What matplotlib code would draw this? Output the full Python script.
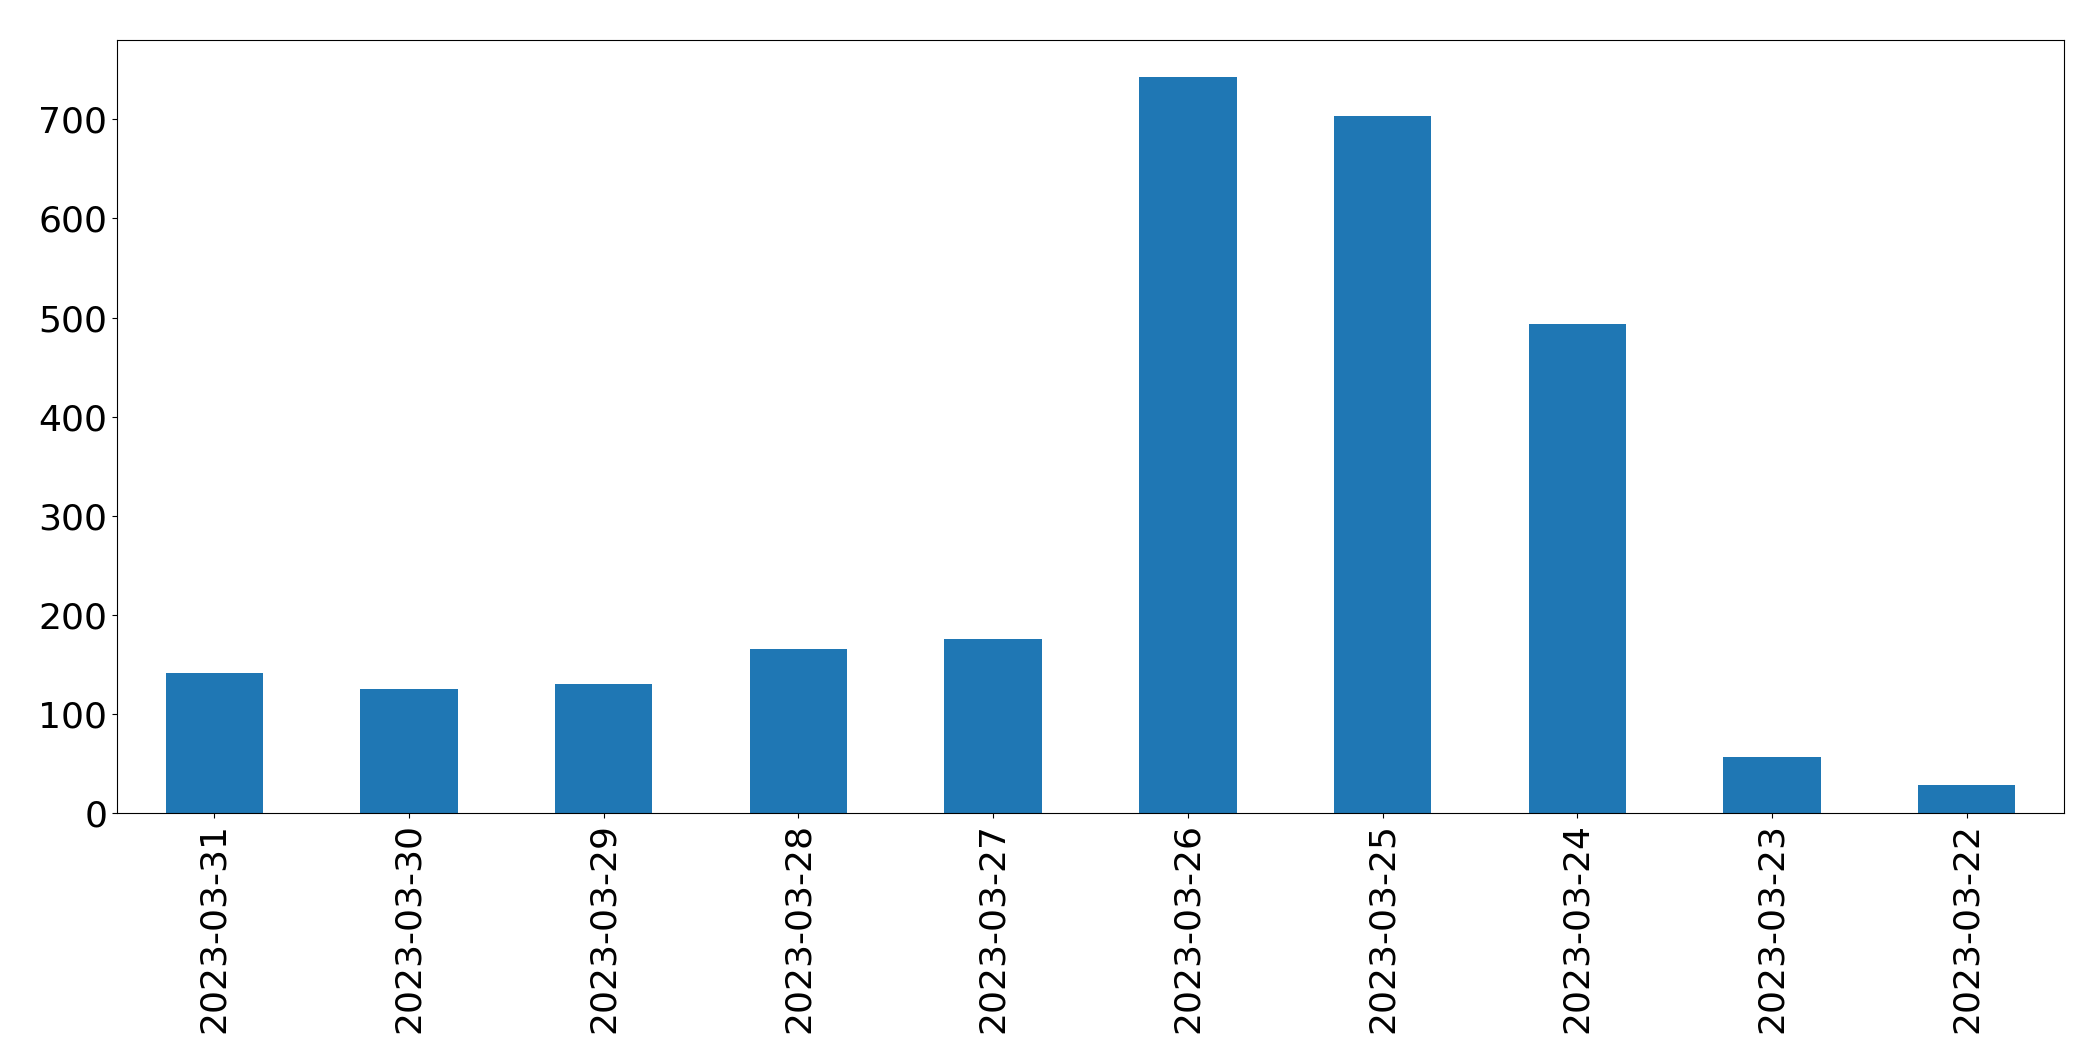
import matplotlib
matplotlib.use("Agg")
import matplotlib.pyplot as plt
import numpy as np

dates = ["2023-03-31", "2023-03-30", "2023-03-29", "2023-03-28", "2023-03-27",
         "2023-03-26", "2023-03-25", "2023-03-24", "2023-03-23", "2023-03-22"]
counts = [141, 125, 130, 166, 176, 743, 703, 494, 57, 28]

fig = plt.figure(figsize=(20.93, 10.61), dpi=100)
ax = fig.add_axes([117 / 2093, 1 - 813 / 1061, (2064 - 117) / 2093, (813 - 40) / 1061])

x = np.arange(len(dates))
ax.bar(x, counts, width=0.5, color="#1f77b4")
ax.set_xlim(-0.5, len(dates) - 0.5)
ax.set_xticks(x)
ax.set_xticklabels(dates, rotation=90)
ax.tick_params(labelsize=26)

fig.savefig("out.png", dpi=100)
